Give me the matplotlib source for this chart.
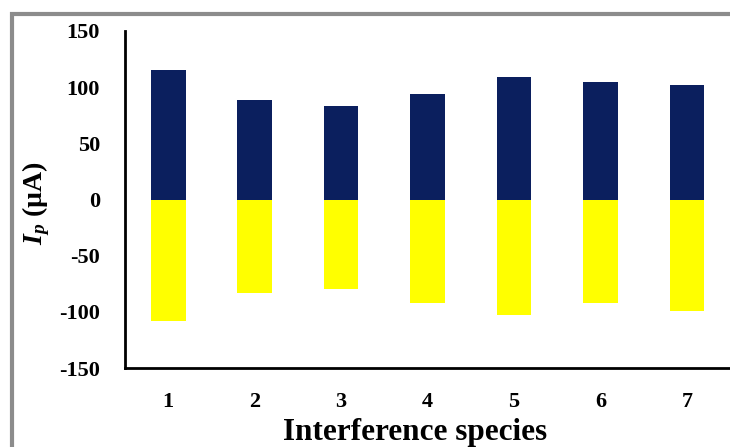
import matplotlib.pyplot as plt
from matplotlib.patches import Rectangle

# data
species = [1, 2, 3, 4, 5, 6, 7]
anodic = [115, 89, 83, 94, 109, 105, 102]
cathodic = [-108, -83, -80, -92, -103, -92, -99]
yticks = [-150, -100, -50, 0, 50, 100, 150]

plt.rcParams['font.family'] = ['Liberation Serif', 'DejaVu Serif']
plt.rcParams['font.weight'] = 'bold'
plt.rcParams['axes.unicode_minus'] = False
plt.rcParams['mathtext.fontset'] = 'custom'
plt.rcParams['mathtext.it'] = 'Liberation Serif:italic:bold'
plt.rcParams['mathtext.rm'] = 'Liberation Serif:bold'

fig = plt.figure(figsize=(7.3, 4.47), dpi=100)
# grey frame round the chart
fig.patches.append(Rectangle((12 / 730, -0.1), 1.1, (447 - 14) / 447 + 0.1,
                             transform=fig.transFigure, fill=False,
                             edgecolor='#8c8c8c', linewidth=3))

ax = fig.add_axes([125 / 730, 79 / 447, 605 / 730, 337 / 447])
ax.bar(species, anodic, width=0.4, color='#0b1f5e')
ax.bar(species, cathodic, width=0.4, color='#ffff00')

ax.set_xlim(0.5, 7.5)
ax.set_ylim(-150, 150)
ax.set_yticks(yticks)
ax.set_xticks(species)
ax.tick_params(axis='y', length=0, pad=18, labelsize=16)
ax.tick_params(axis='x', length=0, pad=17, labelsize=16)
for s in ['top', 'right']:
    ax.spines[s].set_visible(False)
ax.spines['left'].set_linewidth(2)
ax.spines['bottom'].set_linewidth(2)

ax.set_xlabel('Interference species', fontsize=22.5, fontweight='bold')
ax.xaxis.set_label_coords(0.48, -0.148)
ax.set_ylabel(r'$I_p$ (µA)', fontsize=20, fontweight='bold')
ax.yaxis.set_label_coords(-0.12, 0.49)

fig.savefig('out.png', dpi=100)
